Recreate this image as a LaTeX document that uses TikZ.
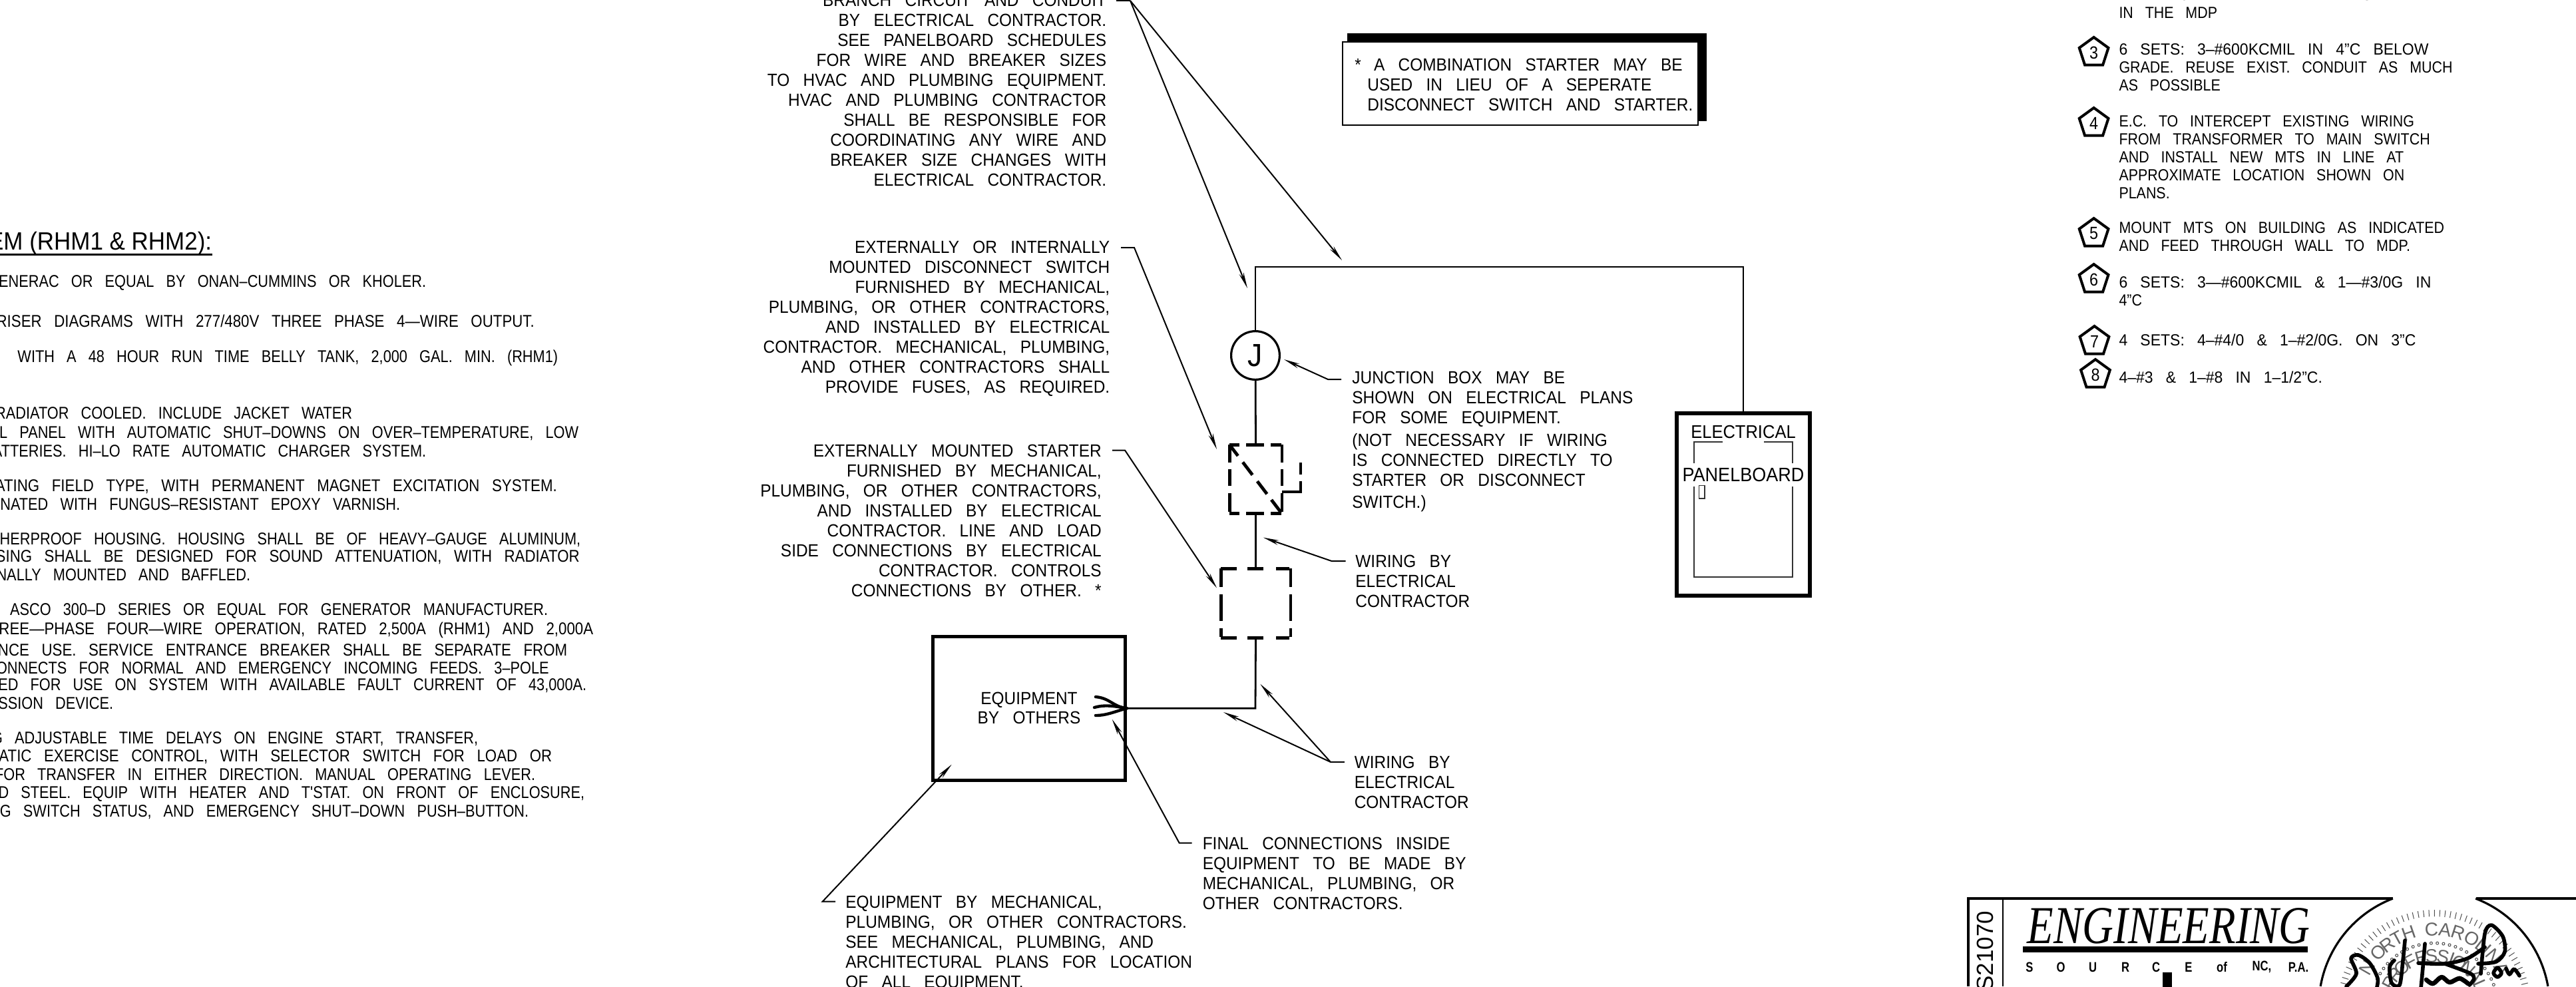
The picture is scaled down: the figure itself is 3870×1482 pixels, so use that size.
\documentclass[tikz,border=0pt]{standalone}
\usepackage{fontspec}
\setmainfont[WordSpace=3,FakeStretch=0.925]{Liberation Sans}
\newfontfamily\plainfont{Liberation Sans}
\newfontfamily\headfont[FakeStretch=0.93]{Liberation Sans}
\newfontfamily\specfont[WordSpace=3,FakeStretch=0.85]{Liberation Sans}
\newfontfamily\specwide[WordSpace=3,FakeStretch=0.87]{Liberation Sans}
\newfontfamily\notefont[WordSpace=3,FakeStretch=0.885]{Liberation Sans}
\newfontfamily\notewide[WordSpace=3,FakeStretch=0.95]{Liberation Sans}
\newfontfamily\srcfont[FakeStretch=0.8]{Liberation Sans}
\newfontfamily\logofont[FakeStretch=0.81]{Liberation Serif}
\usetikzlibrary{arrows.meta,shapes.geometric}

\tikzset{
  notetext/.style={inner sep=0pt, font=\fontsize{6.6}{7.5}\selectfont},
  specline/.style={inner sep=0pt, anchor=east, font=\specfont\fontsize{6.4}{7.5}\selectfont},
  speclong/.style={inner sep=0pt, anchor=east, font=\specwide\fontsize{6.4}{7.5}\selectfont},
  rightnote/.style={inner sep=0pt, anchor=north west, align=left, font=\notefont\fontsize{6.05}{6.75}\selectfont},
  leader/.style={line width=0.5pt, -{Stealth[length=6pt,width=1.8pt]}},
  wire/.style={line width=0.7pt},
  dashside/.style={line width=1.2pt},
  keynote/.style={regular polygon, regular polygon sides=5, draw, line width=1pt, inner sep=0pt,
    minimum size=11.5pt, font=\notefont\fontsize{6.6}{7}\selectfont},
  sealtext/.style={inner sep=0pt, text=black!60, font=\plainfont\fontsize{7}{8}\selectfont},
  sealtick/.style={line width=0.25pt, black!70},
  signstroke/.style={line width=1.4pt, line cap=round, line join=round},
}

\begin{document}
\begin{tikzpicture}[x=0.25pt, y=-0.25pt]
  \useasboundingbox (0,0) rectangle (3870,1482);

  % specification text, cut by the left edge
  \node[inner sep=0pt, anchor=east, font=\headfont\fontsize{9.4}{11}\selectfont] (spechead) at (319,365.5) {EM (RHM1 \& RHM2):};
  \coordinate (ulA) at (0,382.4);
  \coordinate (ulB) at (319,382.4);
  \draw[line width=0.6pt] (ulA) -- (ulB);
  \node[specline] (specA) at (641,425) {ENERAC OR EQUAL BY ONAN–CUMMINS OR KHOLER.};
  \node[speclong] (specB) at (803.6,482) {RISER DIAGRAMS WITH 277/480V THREE PHASE 4—WIRE OUTPUT.};
  \node[specline] (specC) at (839,538) {WITH A 48 HOUR RUN TIME BELLY TANK, 2,000 GAL. MIN. (RHM1)};
  \node[specline] (specD) at (530,621) {RADIATOR COOLED. INCLUDE JACKET WATER};
  \node[specline] (specE) at (870,651) {L PANEL WITH AUTOMATIC SHUT–DOWNS ON OVER–TEMPERATURE, LOW};
  \node[specline] (specF) at (641,677.6) {ATTERIES. HI–LO RATE AUTOMATIC CHARGER SYSTEM.};
  \node[speclong] (specG) at (837.6,731) {OTATING FIELD TYPE, WITH PERMANENT MAGNET EXCITATION SYSTEM.};
  \node[specline] (specH) at (602,757.6) {NATED WITH FUNGUS–RESISTANT EPOXY VARNISH.};
  \node[specline] (specI) at (873,811) {HERPROOF HOUSING. HOUSING SHALL BE OF HEAVY–GAUGE ALUMINUM,};
  \node[speclong] (specJ) at (871.5,837.6) {OUSING SHALL BE DESIGNED FOR SOUND ATTENUATION, WITH RADIATOR};
  \node[specline] (specK) at (377,864) {NALLY MOUNTED AND BAFFLED.};
  \node[specline] (specL) at (824,917.6) {ASCO 300–D SERIES OR EQUAL FOR GENERATOR MANUFACTURER.};
  \node[speclong] (specM) at (892,947) {REE—PHASE FOUR—WIRE OPERATION, RATED 2,500A (RHM1) AND 2,000A};
  \node[speclong] (specN) at (853,977) {RANCE USE. SERVICE ENTRANCE BREAKER SHALL BE SEPARATE FROM};
  \node[specline] (specO) at (825.5,1003.6) {ONNECTS FOR NORMAL AND EMERGENCY INCOMING FEEDS. 3–POLE};
  \node[specline] (specP) at (882,1030) {ED FOR USE ON SYSTEM WITH AVAILABLE FAULT CURRENT OF 43,000A.};
  \node[specline] (specQ) at (171,1057) {SSION DEVICE.};
  \node[specline] (specR) at (719,1110) {G ADJUSTABLE TIME DELAYS ON ENGINE START, TRANSFER,};
  \node[speclong] (specS) at (830,1137) {OMATIC EXERCISE CONTROL, WITH SELECTOR SWITCH FOR LOAD OR};
  \node[specline] (specT) at (805,1163.6) {FOR TRANSFER IN EITHER DIRECTION. MANUAL OPERATING LEVER.};
  \node[specline] (specU) at (879,1193) {D STEEL. EQUIP WITH HEATER AND T'STAT. ON FRONT OF ENCLOSURE,};
  \node[specline] (specV) at (795,1220) {G SWITCH STATUS, AND EMERGENCY SHUT–DOWN PUSH–BUTTON.};

  % main riser
  \node[circle, draw, line width=0.8pt, inner sep=0pt, minimum size=18.2pt, font=\fontsize{12}{12}\selectfont] (jbox) at (1886,534) {J};
  \node[inner sep=0pt, minimum width=19.3pt, minimum height=25.5pt] (swbox) at (1886.5,720) {};
  \node[inner sep=0pt, minimum width=25.8pt, minimum height=25.7pt] (stbox) at (1886.5,906.5) {};
  \node[draw, line width=1.25pt, inner sep=0pt, minimum width=72.2pt, minimum height=54.1pt, align=center,
    font=\fontsize{6.6}{7.3}\selectfont] (equip) at (1546,1064.2) {EQUIPMENT\\BY OTHERS};
  \node[draw, line width=1.5pt, inner sep=0pt, minimum width=50.2pt, minimum height=68.6pt] (panel) at (2619,758) {};
  \coordinate (wireTL) at (1886,401);
  \coordinate (wireTR) at (2619,401);
  \coordinate (wireBR) at (1886,1064.2);
  \draw[wire] (jbox) -- (wireTL) -- (wireTR) -- (panel);
  \draw[wire] (jbox) -- (swbox.north);
  \draw[wire] (swbox.south) -- (stbox.north);
  \draw[wire] (stbox.south) -- (wireBR) -- (equip);

  % disconnect switch
  \draw[dashside, dash pattern=on 3.75pt off 2.5pt on 6.75pt off 2.5pt on 4pt] (swbox.north west) -- (swbox.north east);
  \draw[dashside, dash pattern=on 3.75pt off 2.5pt on 6.75pt off 2.5pt on 4pt] (swbox.south west) -- (swbox.south east);
  \draw[dashside, dash pattern=on 6.75pt off 2.5pt on 6.25pt off 2.75pt on 7pt] (swbox.north west) -- (swbox.south west);
  \draw[dashside, dash pattern=on 6.75pt off 2.5pt on 6.25pt off 2.75pt on 7pt] (swbox.north east) -- (swbox.south east);
  \draw[dashside, dash pattern=on 5.25pt off 3pt on 6pt off 3pt on 6pt off 2.75pt on 6pt] (swbox.north west) -- (swbox.south east);
  \coordinate (auxA) at (1954,695);
  \coordinate (auxB) at (1954,739);
  \coordinate (auxC) at (1926,739);
  \draw[dashside, dash pattern=on 4.5pt off 2.5pt on 12pt] (auxA) -- (auxB) -- (auxC);

  % starter
  \draw[dashside, dash pattern=on 6pt off 4pt on 6pt off 4.75pt on 5pt] (stbox.north west) -- (stbox.north east);
  \draw[dashside, dash pattern=on 6pt off 4pt on 6pt off 4.75pt on 5pt] (stbox.south west) -- (stbox.south east);
  \draw[dashside, dash pattern=on 7pt off 2.75pt on 10pt off 2.75pt on 3.25pt] (stbox.north west) -- (stbox.south west);
  \draw[dashside, dash pattern=on 7pt off 2.75pt on 10pt off 2.75pt on 3.25pt] (stbox.north east) -- (stbox.south east);

  % wire tails inside the equipment
  \coordinate (tailA) at (1646,1047);
  \coordinate (tailB) at (1644,1063);
  \coordinate (tailC) at (1646,1075);
  \draw[line width=1.1pt, line cap=round] (equip.east) .. controls (1672,1062) and (1668,1049) .. (tailA);
  \draw[line width=1.1pt, line cap=round] (equip.east) .. controls (1670,1060) and (1658,1059) .. (tailB);
  \draw[line width=1.1pt, line cap=round] (equip.east) .. controls (1672,1070) and (1662,1075) .. (tailC);

  % panelboard
  \node[inner sep=0pt, font=\fontsize{6.9}{8}\selectfont] (paneltopA) at (2619,648.7) {ELECTRICAL};
  \node[inner sep=0pt, font=\fontsize{7.3}{8}\selectfont] (paneltopB) at (2619,713.5) {PANELBOARD};
  \draw[line width=0.3pt, black!80] (2588,664) -- (2545,664) -- (2545,696)
    (2545,731) -- (2545,867) -- (2693,867) -- (2693,731)
    (2693,696) -- (2693,664) -- (2650,664);
  \draw[line width=0.3pt, black!80] (2552.5,729.6) rectangle (2561,749);

  % leaders, left side
  \node[notetext, anchor=north east, align=right] (branchnote) at (1663,-9.5) {BRANCH CIRCUIT AND CONDUIT\\BY ELECTRICAL CONTRACTOR.\\SEE PANELBOARD SCHEDULES\\FOR WIRE AND BREAKER SIZES\\TO HVAC AND PLUMBING EQUIPMENT.\\HVAC AND PLUMBING CONTRACTOR\\SHALL BE RESPONSIBLE FOR\\COORDINATING ANY WIRE AND\\BREAKER SIZE CHANGES WITH\\ELECTRICAL CONTRACTOR.};
  \coordinate (branchA) at (1677,1);
  \coordinate (branchB) at (1698,1);
  \coordinate (branchTipA) at (1874,433);
  \coordinate (branchTipB) at (2016,391);
  \draw[line width=0.5pt] (branchA) -- (branchB);
  \draw[leader] (branchB) -- (branchTipA);
  \draw[leader] (branchB) -- (branchTipB);

  \node[notetext, anchor=north east, align=right] (swnote) at (1668,361) {EXTERNALLY OR INTERNALLY\\MOUNTED DISCONNECT SWITCH\\FURNISHED BY MECHANICAL,\\PLUMBING, OR OTHER CONTRACTORS,\\AND INSTALLED BY ELECTRICAL\\CONTRACTOR. MECHANICAL, PLUMBING,\\AND OTHER CONTRACTORS SHALL\\PROVIDE FUSES, AS REQUIRED.};
  \coordinate (swA) at (1684,372);
  \coordinate (swB) at (1704,372);
  \coordinate (swTip) at (1828,675);
  \draw[leader] (swA) -- (swB) -- (swTip);

  \node[notetext, anchor=north east, align=right] (stnote) at (1655.5,667) {EXTERNALLY MOUNTED STARTER\\FURNISHED BY MECHANICAL,\\PLUMBING, OR OTHER CONTRACTORS,\\AND INSTALLED BY ELECTRICAL\\CONTRACTOR. LINE AND LOAD\\SIDE CONNECTIONS BY ELECTRICAL\\CONTRACTOR. CONTROLS\\CONNECTIONS BY OTHER. *};
  \coordinate (stA) at (1671,676.5);
  \coordinate (stB) at (1690,676.5);
  \coordinate (stTip) at (1828,883.4);
  \draw[leader] (stA) -- (stB) -- (stTip);

  % leaders, right side
  \node[notetext, anchor=north west, align=left] (jnote) at (2030.6,557.5) {JUNCTION BOX MAY BE\\SHOWN ON ELECTRICAL PLANS\\FOR SOME EQUIPMENT.\\[0.9pt](NOT NECESSARY IF WIRING\\IS CONNECTED DIRECTLY TO\\STARTER OR DISCONNECT\\[0.9pt]SWITCH.)};
  \coordinate (jA) at (2015,570);
  \coordinate (jB) at (1995,570);
  \coordinate (jTip) at (1929,540);
  \draw[leader] (jA) -- (jB) -- (jTip);

  \node[notetext, anchor=north west, align=left] (wirenoteA) at (2035.6,833.5) {WIRING BY\\ELECTRICAL\\CONTRACTOR};
  \coordinate (wireA) at (2021.6,843);
  \coordinate (wireB) at (2000.5,843);
  \coordinate (wireTip) at (1897.8,807.6);
  \draw[leader] (wireA) -- (wireB) -- (wireTip);

  \node[notetext, anchor=north west, align=left] (wirenoteB) at (2034,1135.5) {WIRING BY\\ELECTRICAL\\CONTRACTOR};
  \coordinate (wireC) at (2019.6,1145);
  \coordinate (wireD) at (1999,1145);
  \coordinate (wireTipA) at (1893.3,1027.7);
  \coordinate (wireTipB) at (1837.9,1070);
  \draw[line width=0.5pt] (wireC) -- (wireD);
  \draw[leader] (wireD) -- (wireTipA);
  \draw[leader] (wireD) -- (wireTipB);

  \node[notetext, anchor=north west, align=left] (finalnote) at (1806,1257) {FINAL CONNECTIONS INSIDE\\EQUIPMENT TO BE MADE BY\\MECHANICAL, PLUMBING, OR\\OTHER CONTRACTORS.};
  \coordinate (finalA) at (1790.7,1266.5);
  \coordinate (finalB) at (1771.6,1266.5);
  \coordinate (finalTip) at (1670.8,1080.8);
  \draw[leader] (finalA) -- (finalB) -- (finalTip);

  \node[notetext, anchor=north west, align=left] (equipnote) at (1269.6,1345) {EQUIPMENT BY MECHANICAL,\\PLUMBING, OR OTHER CONTRACTORS.\\SEE MECHANICAL, PLUMBING, AND\\ARCHITECTURAL PLANS FOR LOCATION\\OF ALL EQUIPMENT.};
  \coordinate (equipA) at (1255,1354.5);
  \coordinate (equipB) at (1235.8,1354.5);
  \coordinate (equipTip) at (1429.7,1148.7);
  \draw[leader] (equipA) -- (equipB) -- (equipTip);

  % starter remark
  \node[fill=black, inner sep=0pt, minimum width=135.1pt, minimum height=33.1pt] (remarkshade) at (2293.7,116.2) {};
  \node[draw, fill=white, line width=0.6pt, inner sep=0pt, minimum width=133.5pt, minimum height=31.2pt] (remarkbox) at (2284,125.5) {};
  \node[notetext, anchor=north west, align=left] (remarktxt) at (2053.6,87) {\llap{*\hspace{2.4pt}}\hspace{2.4pt}A COMBINATION STARTER MAY BE\\USED IN LIEU OF A SEPERATE\\DISCONNECT SWITCH AND STARTER.};

  % keyed notes
  \node[rightnote] (noteB) at (3182.7,-17) {THE NEUTRAL BAR AND THE GND. BAR\\IN THE MDP};
  \node[keynote] (keyC) at (3145.6,79) {3};
  \node[rightnote] (noteC) at (3182.7,65) {{\notewide 6 SETS: 3–\#600KCMIL IN 4”C BELOW}\\GRADE. REUSE EXIST. CONDUIT AS MUCH\\AS POSSIBLE};
  \node[keynote] (keyD) at (3145.6,185) {4};
  \node[rightnote] (noteD) at (3182.7,172.5) {E.C. TO INTERCEPT EXISTING WIRING\\FROM TRANSFORMER TO MAIN SWITCH\\AND INSTALL NEW MTS IN LINE AT\\APPROXIMATE LOCATION SHOWN ON\\PLANS.};
  \node[keynote] (keyE) at (3145.6,351) {5};
  \node[rightnote] (noteE) at (3182.7,332.5) {MOUNT MTS ON BUILDING AS INDICATED\\AND FEED THROUGH WALL TO MDP.};
  \node[keynote] (keyF) at (3145.6,420) {6};
  \node[rightnote] (noteF) at (3182.7,414.5) {{\notewide 6 SETS: 3—\#600KCMIL \& 1—\#3/0G IN}\\4”C};
  \node[keynote] (keyG) at (3146.5,513) {7};
  \node[rightnote, font=\notewide\fontsize{6.05}{6.75}\selectfont] (noteG) at (3182.7,501) {4 SETS: 4–\#4/0 \& 1–\#2/0G. ON 3”C};
  \node[keynote] (keyH) at (3148,563) {8};
  \node[rightnote, font=\notewide\fontsize{6.05}{6.75}\selectfont] (noteH) at (3182.7,557) {4–\#3 \& 1–\#8 IN 1–1/2”C.};

  % title block
  \coordinate (tbA) at (2957,1482);
  \coordinate (tbB) at (2957,1350);
  \coordinate (tbC) at (3595,1350);
  \coordinate (tbD) at (3720,1350);
  \coordinate (tbE) at (3870,1350);
  \coordinate (tbF) at (3009,1350);
  \coordinate (tbG) at (3009,1482);
  \draw[line width=0.9pt] (tbA) -- (tbB) -- (tbC);
  \draw[line width=0.6pt] (tbF) -- (tbG);
  \draw[line width=0.9pt] (tbD) -- (tbE);
  \node[inner sep=0pt, anchor=east, rotate=90, font=\plainfont\fontsize{8.75}{10}\selectfont] (jobno) at (2982,1368) {S21070};
  \node[inner sep=0pt, anchor=west, font=\logofont\itshape\fontsize{20}{22}\selectfont] (logotxt) at (3045,1391) {ENGINEERING};
  \node[fill=black, inner sep=0pt, minimum width=107pt, minimum height=2.2pt] (logobar) at (3253,1426.5) {};
  \foreach \x/\w in {3049/S,3096/O,3144/U,3193/R,3239/C,3288/E,3338/of,3398/{NC,},3453/{P.A.}}
    \node[inner sep=0pt, font=\srcfont\bfseries\fontsize{5.2}{6}\selectfont] (src\x) at (\x,1453) {\w};
  \node[fill=black, inner sep=0pt, anchor=north west, minimum width=3.5pt, minimum height=5.5pt] (logomark) at (3248,1460) {};

  % seal
  \draw[line width=0.8pt, domain=111:170, samples=30, variable=\a] plot ({3657+173.5*cos(\a)},{1512-173.5*sin(\a)});
  \draw[line width=0.8pt, domain=69:10, samples=30, variable=\a] plot ({3657+173.5*cos(\a)},{1512-173.5*sin(\a)});
  \foreach \a in {14,17.3,...,166}
    \draw[sealtick] ({3657+135*cos(\a)},{1512-135*sin(\a)}) -- ({3657+145*cos(\a)},{1512-145*sin(\a)});
  \foreach \a in {20,25.6,...,160}
    \draw[line width=0.25pt, black!70] ({3657+95*cos(\a)},{1512-95*sin(\a)}) circle[radius=0.5pt];
  \foreach \a/\c in {150/N,136/O,127/R,118.6/T,109/H,92/C,82/A,72/R,61/O,52/L,47/I,40/N,29/A}
    \node[sealtext, rotate=\a-90] (north\a) at ({3657+116*cos(\a)},{1512-116*sin(\a)}) {\c};
  \foreach \a/\c in {152/P,141/R,130/O,118/F,105/E,93/S,80/S,70/I,60/O,48/N,36/A,24/L}
    \node[sealtext, rotate=\a-90] (prof\a) at ({3657+76*cos(\a)},{1512-76*sin(\a)}) {\c};

  % signature
  \draw[signstroke] plot[smooth] coordinates {(3525,1482) (3540,1463) (3532,1440) (3543,1435) (3560,1447) (3572,1470) (3570,1487)};
  \draw[signstroke] plot[smooth] coordinates {(3613,1413) (3610,1443) (3605,1480) (3593,1477) (3590,1453) (3597,1443)};
  \draw[signstroke] plot[smooth] coordinates {(3643,1418) (3640,1453) (3637,1485)};
  \draw[signstroke] plot[smooth] coordinates {(3633,1447) (3673,1448) (3707,1440) (3733,1423)};
  \draw[signstroke] plot[smooth] coordinates {(3673,1448) (3710,1462) (3717,1470) (3710,1480)};
  \draw[signstroke, line width=1.7pt] plot[smooth] coordinates {(3645,1472) (3655,1478) (3668,1468) (3680,1476) (3695,1470) (3708,1478)};
  \draw[signstroke] plot[smooth] coordinates {(3727,1463) (3733,1403) (3743,1390) (3760,1407) (3763,1430) (3750,1445) (3723,1448)};
  \draw[signstroke] plot[smooth cycle] coordinates {(3752,1454) (3758,1462) (3752,1468) (3746,1462)};
  \draw[signstroke] plot[smooth] coordinates {(3765,1455) (3770,1464) (3777,1456) (3785,1466)};
\end{tikzpicture}
\end{document}
